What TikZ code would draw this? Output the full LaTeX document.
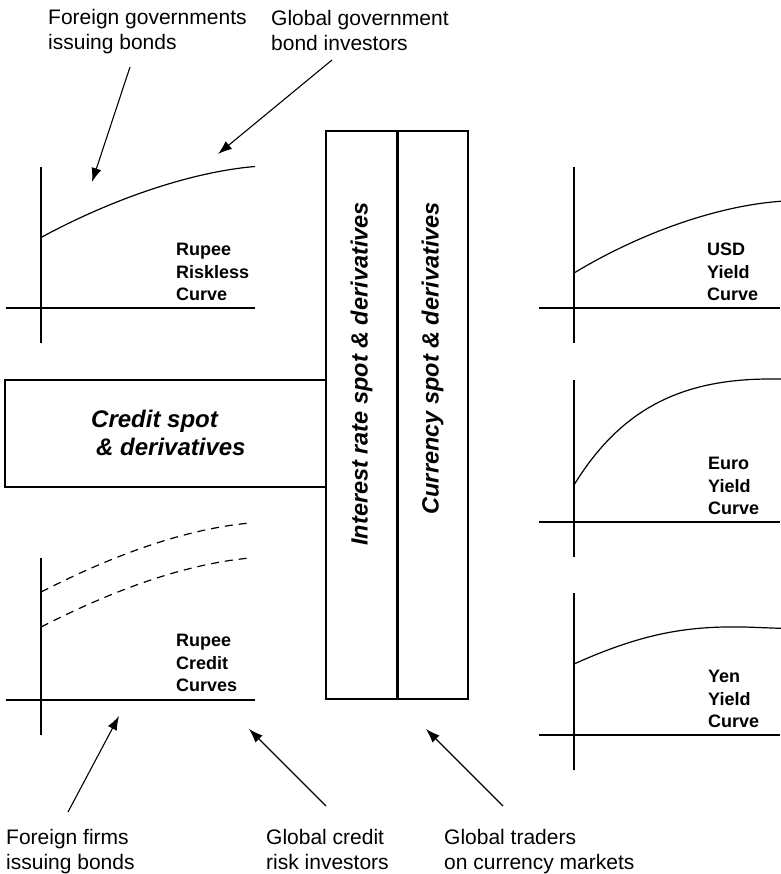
\documentclass[tikz,border=0pt]{standalone}
\usepackage{fontspec}
\setmainfont{Liberation Sans}
\usetikzlibrary{arrows.meta}
\begin{document}
\begin{tikzpicture}[x=1pt,y=-1pt,
  curve/.style={line width=1.2pt},
  dcurve/.style={line width=1.2pt,dash pattern=on 8pt off 6pt},
  axis/.style={line width=1.3pt},
  arr/.style={line width=1.1pt,-{Latex[length=14pt,width=10pt]}},
  hdr/.style={anchor=north west,inner sep=0pt,align=left,font=\fontsize{21}{25}\selectfont},
  lbl/.style={anchor=north west,inner sep=0pt,align=left,font=\fontsize{18}{22.5}\selectfont\bfseries},
  mkt/.style={inner sep=0pt,font=\fontsize{23.5}{28}\selectfont\bfseries\itshape},
  box/.style={draw,line width=1.3pt,inner sep=0pt}]
\useasboundingbox (0,0) rectangle (780,874);

% headers
\node[hdr] (fg) at (48,9) {Foreign governments\\issuing bonds};
\node[hdr] (gg) at (271,10) {Global government\\bond investors};
\node[hdr] (ff) at (6,829) {Foreign firms\\issuing bonds};
\node[hdr] (gc) at (266,829) {Global credit\\risk investors};
\node[hdr] (gt) at (444,829) {Global traders\\on currency markets};

% arrows
\coordinate (a1s) at (130,67);  \coordinate (a1e) at (92,182);
\coordinate (a2s) at (332,60);  \coordinate (a2e) at (218,154);
\coordinate (a3s) at (68,812);  \coordinate (a3e) at (119,716);
\coordinate (a4s) at (326,806); \coordinate (a4e) at (249,729);
\coordinate (a5s) at (503,806); \coordinate (a5e) at (426,729);
\draw[arr] (a1s) -- (a1e);
\draw[arr] (a2s) -- (a2e);
\draw[arr] (a3s) -- (a3e);
\draw[arr] (a4s) -- (a4e);
\draw[arr] (a5s) -- (a5e);

% central boxes
\node[box,minimum width=71pt,minimum height=568pt] (irbox) at (361.5,415) {};
\node[box,minimum width=71pt,minimum height=568pt] (fxbox) at (432.5,415) {};
\draw[line width=2pt] (irbox.north east) -- (irbox.south east);
\node[mkt,rotate=90,anchor=east] (irt) at (361.5,202) {Interest rate spot \& derivatives};
\node[mkt,rotate=90,anchor=east] (fxt) at (432.5,202) {Currency spot \& derivatives};

% credit box
\node[box,minimum width=321pt,minimum height=107pt] (crbox) at (165.5,433.5) {};
\node[mkt,anchor=north west,align=left,font=\fontsize{24}{28}\selectfont\bfseries\itshape] (crt) at (91,410) {Credit spot\\\hspace*{5pt}\& derivatives};

% Rupee riskless
\draw[axis] (41,167) -- (41,343);
\draw[axis] (6,308) -- (255,308);
\draw[curve] (41,237.5) .. controls (110,200) and (190,172) .. (255,166.5);
\node[lbl] (rr) at (176,243) {Rupee\\Riskless\\Curve};

% Rupee credit
\draw[axis] (41,558) -- (41,735);
\draw[axis] (6,700) -- (255,700);
\draw[dcurve] (41,592) .. controls (100,562) and (175,530) .. (250,523);
\draw[dcurve] (41,627) .. controls (100,597) and (175,565) .. (250,558);
\node[lbl] (rc) at (176,634) {Rupee\\Credit\\Curves};

% USD
\draw[axis] (574,167) -- (574,343);
\draw[axis] (539,308) -- (780,308);
\draw[curve] (574,273) .. controls (635,236) and (715,205) .. (785,201);
\node[lbl] (usd) at (707,243) {USD\\Yield\\Curve};

% Euro
\draw[axis] (574,380) -- (574,557);
\draw[axis] (539,522) -- (780,522);
\draw[curve] (574,485) .. controls (620,410) and (680,379) .. (770,379) -- (785,379);
\node[lbl] (eur) at (708,457) {Euro\\Yield\\Curve};

% Yen
\draw[axis] (574,593) -- (574,770);
\draw[axis] (539,735) -- (780,735);
\draw[curve] (574,664) .. controls (645,632) and (690,626) .. (745,627) .. controls (765,627.3) .. (785,628.5);
\node[lbl] (yen) at (708,670) {Yen\\Yield\\Curve};
\end{tikzpicture}
\end{document}
